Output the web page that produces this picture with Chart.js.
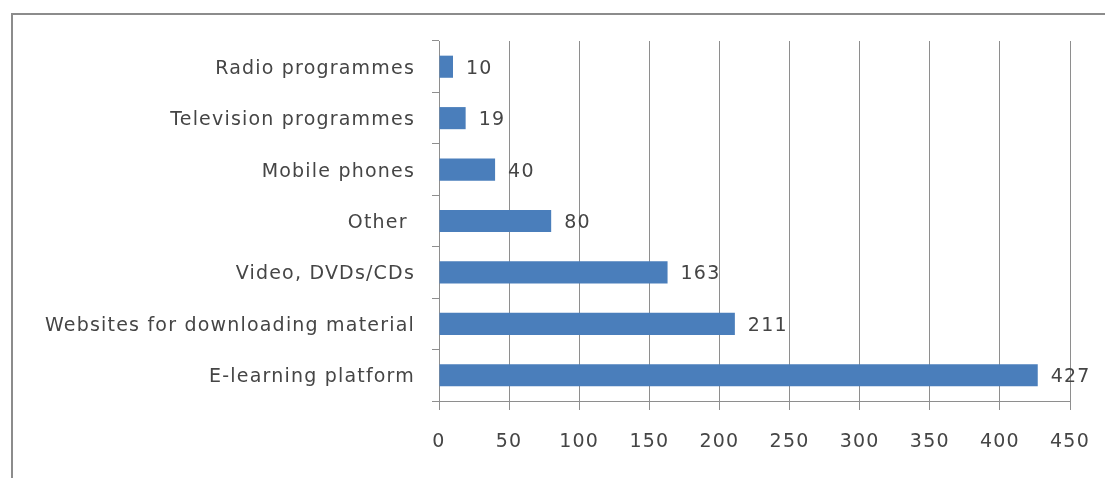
<!DOCTYPE html>
<html>
<head>
<meta charset="utf-8">
<script src="https://cdn.jsdelivr.net/npm/chart.js@4"></script>
<style>
  html, body { margin: 0; padding: 0; background: #fff; overflow: hidden; }
  #frame { position: absolute; left: 11px; top: 13px; width: 1200px; height: 600px;
           border-left: 2px solid #8c8c8c; border-top: 2px solid #8c8c8c; }
  #wrap { position: absolute; left: 0; top: 0; width: 1105px; height: 478px; }
</style>
</head>
<body>
<div id="frame"></div>
<div id="wrap"><canvas id="c" width="1105" height="478"></canvas></div>
<script>
// Media used for distance learning (counts)
var categories = [
  "Radio programmes",
  "Television programmes",
  "Mobile phones",
  "Other ",
  "Video, DVDs/CDs",
  "Websites for downloading material",
  "E-learning platform"
];
var counts = [10, 19, 40, 80, 163, 211, 427];
var xTicks = [0, 50, 100, 150, 200, 250, 300, 350, 400, 450];

var FONT = { family: "DejaVu Sans, sans-serif", size: 19 };
var SPACING = "1.2px";
var INK = "#454545";
var GRID = "#8e8e8e";

// a little tracking on every text drawn, so the labels run as wide as the Calibri originals
var tracking = {
  id: "tracking",
  beforeDraw: function (chart) { chart.ctx.letterSpacing = SPACING; }
};

// value printed to the right of each bar
var barValues = {
  id: "barValues",
  afterDatasetsDraw: function (chart) {
    var ctx = chart.ctx;
    var meta = chart.getDatasetMeta(0);
    ctx.save();
    ctx.font = FONT.size + "px " + FONT.family;
    ctx.letterSpacing = SPACING;
    ctx.fillStyle = INK;
    ctx.textBaseline = "middle";
    ctx.textAlign = "left";
    meta.data.forEach(function (bar, i) {
      ctx.fillText(String(counts[i]), bar.x + 13, bar.y + 2);
    });
    ctx.restore();
  }
};

new Chart(document.getElementById("c"), {
  type: "bar",
  data: {
    labels: categories,
    datasets: [{
      data: counts,
      backgroundColor: "#4a7ebb",
      borderColor: "#4a7ebb",
      borderWidth: 0,
      barPercentage: 0.43,
      categoryPercentage: 1.0
    }]
  },
  options: {
    indexAxis: "y",
    responsive: false,
    animation: false,
    layout: { padding: { top: 41, right: 35, left: 0, bottom: 0 } },
    plugins: { legend: { display: false }, tooltip: { enabled: false } },
    scales: {
      x: {
        min: 0, max: 450,
        afterBuildTicks: function (s) { s.ticks = xTicks.map(function (v) { return { value: v }; }); },
        afterFit: function (s) { s.height = 77; s.paddingLeft = 0; s.paddingRight = 0; },
        grid: { color: GRID, lineWidth: 1, tickLength: 9, tickColor: GRID },
        border: { display: true, color: GRID, width: 1 },
        ticks: { color: INK, font: FONT, padding: 21, maxRotation: 0 }
      },
      y: {
        afterFit: function (s) { s.width = 439; s.paddingTop = 0; s.paddingBottom = 0; },
        grid: { drawOnChartArea: false, offset: true, tickLength: 7, tickColor: GRID, color: GRID },
        border: { display: true, color: GRID, width: 1 },
        ticks: { color: INK, font: FONT, padding: 17, labelOffset: 2 }
      }
    }
  },
  plugins: [tracking, barValues]
});
</script>
</body>
</html>
